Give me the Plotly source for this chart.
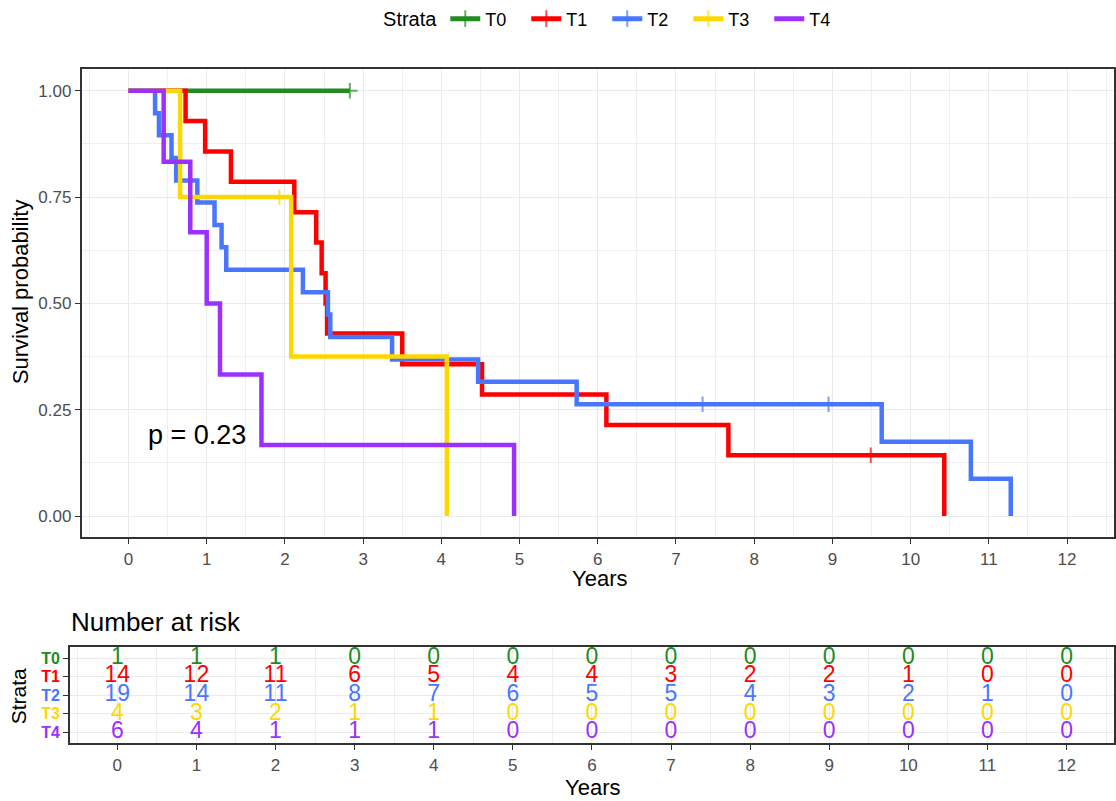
import plotly.graph_objects as go

# ---------------- data ----------------
strata = ["T0", "T1", "T2", "T3", "T4"]
colors = {"T0": "#228B22", "T1": "#FF0000", "T2": "#4876FF", "T3": "#FFD700", "T4": "#9B30FF"}

T0_time = [0, 2.83]
T0_surv = [1.0, 1.0]
T0_cens = [0, 1]

T1_time = [0, 0.73, 0.98, 1.31, 2.12, 2.40, 2.47, 2.52, 2.54, 3.50, 4.52, 6.11, 7.67, 9.49, 10.43]
T1_surv = [1.0, 0.929, 0.857, 0.786, 0.714, 0.643, 0.571, 0.500, 0.429, 0.357, 0.286, 0.214, 0.143, 0.143, 0.0]
T1_cens = [0, 0, 0, 0, 0, 0, 0, 0, 0, 0, 0, 0, 0, 1, 0]

T2_time = [0, 0.34, 0.39, 0.55, 0.61, 0.88, 1.10, 1.19, 1.25, 2.23, 2.55, 2.58, 3.37, 4.47, 5.73, 7.34, 8.95, 9.63, 10.77, 11.28]
T2_surv = [1.0, 0.947, 0.895, 0.842, 0.789, 0.737, 0.684, 0.632, 0.579, 0.526, 0.474, 0.421, 0.368, 0.316, 0.263, 0.263, 0.263, 0.175, 0.088, 0.0]
T2_cens = [0, 0, 0, 0, 0, 0, 0, 0, 0, 0, 0, 0, 0, 0, 0, 1, 1, 0, 0, 0]

T3_time = [0, 0.66, 1.93, 2.08, 4.07]
T3_surv = [1.0, 0.75, 0.75, 0.375, 0.0]
T3_cens = [0, 0, 1, 0, 0]

T4_time = [0, 0.45, 0.79, 1.00, 1.17, 1.70, 4.93]
T4_surv = [1.0, 0.833, 0.667, 0.500, 0.333, 0.167, 0.0]
T4_cens = [0, 0, 0, 0, 0, 0, 0]

risk_times = [0, 1, 2, 3, 4, 5, 6, 7, 8, 9, 10, 11, 12]
risk_T0 = [1, 1, 1, 0, 0, 0, 0, 0, 0, 0, 0, 0, 0]
risk_T1 = [14, 12, 11, 6, 5, 4, 4, 3, 2, 2, 1, 0, 0]
risk_T2 = [19, 14, 11, 8, 7, 6, 5, 5, 4, 3, 2, 1, 0]
risk_T3 = [4, 3, 2, 1, 1, 0, 0, 0, 0, 0, 0, 0, 0]
risk_T4 = [6, 4, 1, 1, 1, 0, 0, 0, 0, 0, 0, 0, 0]

y_ticks = [0, 0.25, 0.5, 0.75, 1.0]
x_ticks = list(range(0, 13))
p_text = "p = 0.23"

curves = {
    "T0": (T0_time, T0_surv, T0_cens),
    "T1": (T1_time, T1_surv, T1_cens),
    "T2": (T2_time, T2_surv, T2_cens),
    "T3": (T3_time, T3_surv, T3_cens),
    "T4": (T4_time, T4_surv, T4_cens),
}
risks = {"T0": risk_T0, "T1": risk_T1, "T2": risk_T2, "T3": risk_T3, "T4": risk_T4}

# ---------------- figure ----------------
W, H = 1116, 801
FONT = "Liberation Sans, Arial, sans-serif"
fig = go.Figure()

for s in strata:
    t, sv, c = curves[s]
    has_cens = any(c)
    fig.add_trace(go.Scatter(
        x=t, y=sv, mode="lines+markers" if has_cens else "lines",
        name=s, line=dict(color=colors[s], width=4.5, shape="hv"),
        marker=dict(symbol="cross-thin-open", size=[11 if ci else 0 for ci in c],
                    color=colors[s], line=dict(color=colors[s], width=2)),
        xaxis="x", yaxis="y", hoverinfo="skip",
    ))

for s in strata:
    fig.add_trace(go.Scatter(
        x=risk_times, y=[s] * len(risk_times), text=[str(v) for v in risks[s]],
        mode="text", textposition="middle center",
        textfont=dict(color=colors[s], size=23, family=FONT),
        showlegend=False, xaxis="x2", yaxis="y2", hoverinfo="skip",
    ))

def px_x(p):
    return p / W

def px_y(p):
    return 1 - p / H

grid_major = "#EBEBEB"
grid_minor = "#EFEFEF"
tickfont = dict(family=FONT, size=17, color="#4D4D4D")

fig.update_layout(
    width=W, height=H, autosize=False,
    margin=dict(l=0, r=0, t=0, b=0),
    paper_bgcolor="white", plot_bgcolor="white",
    font=dict(family=FONT, color="black"),
    showlegend=True,
    legend=dict(
        orientation="h", x=0.553, xanchor="center", y=px_y(17), yanchor="middle",
        title=dict(text="Strata", font=dict(size=20, family=FONT), side="left"),
        font=dict(size=18, family=FONT), itemsizing="constant", entrywidth=36,
        bgcolor="rgba(0,0,0,0)",
    ),
    xaxis=dict(
        domain=[px_x(81.7), 1.0], range=[-0.6, 12.6], anchor="y",
        tickvals=x_ticks, ticks="outside", ticklen=5, tickwidth=1.2, tickcolor="#333333",
        tickfont=tickfont, showgrid=True, gridcolor=grid_major, gridwidth=1.4,
        minor=dict(dtick=0.5, tick0=0, showgrid=True, gridcolor=grid_minor, gridwidth=1, ticks=""),
        showline=True, linecolor="#333333", linewidth=1.6, mirror=True, zeroline=False,
    ),
    yaxis=dict(
        domain=[px_y(536.7), px_y(67.6)], range=[-0.05, 1.05], anchor="x",
        tickvals=y_ticks, tickformat=".2f", ticks="outside", ticklen=5, tickwidth=1.2,
        tickcolor="#333333", tickfont=tickfont, showgrid=True, gridcolor=grid_major, gridwidth=1.4,
        minor=dict(dtick=0.125, tick0=0, showgrid=True, gridcolor=grid_minor, gridwidth=1, ticks=""),
        showline=True, linecolor="#333333", linewidth=1.6, mirror=True, zeroline=False,
    ),
    xaxis2=dict(
        domain=[px_x(70), 1.0], range=[-0.6, 12.6], anchor="y2",
        tickvals=x_ticks, ticks="outside", ticklen=5, tickwidth=1.2, tickcolor="#333333",
        tickfont=tickfont, showgrid=True, gridcolor=grid_major, gridwidth=1.4,
        minor=dict(dtick=0.5, tick0=0, showgrid=True, gridcolor=grid_minor, gridwidth=1, ticks=""),
        showline=True, linecolor="#333333", linewidth=1.6, mirror=True, zeroline=False,
    ),
    yaxis2=dict(
        domain=[px_y(743.3), px_y(646.7)], anchor="x2",
        type="category", categoryorder="array", categoryarray=strata[::-1],
        range=[-0.6, 4.6],
        tickvals=strata,
        ticktext=[f"<span style='color:{colors[s]}'><b>{s}</b></span>" for s in strata],
        ticks="outside", ticklen=5, tickwidth=1.2, tickcolor="#333333",
        tickfont=dict(family=FONT, size=16), showgrid=True, gridcolor=grid_major, gridwidth=1.4,
        showline=True, linecolor="#333333", linewidth=1.6, mirror=True, zeroline=False,
    ),
)

annotations = [
    dict(text="Survival probability", x=px_x(20), y=px_y(290), xref="paper", yref="paper",
         textangle=-90, showarrow=False, font=dict(size=22, family=FONT, color="black"),
         xanchor="center", yanchor="middle"),
    dict(text="Years", x=px_x(601), y=px_y(578), xref="paper", yref="paper",
         showarrow=False, font=dict(size=22, family=FONT, color="black"),
         xanchor="center", yanchor="middle"),
    dict(text=p_text, x=0.23, y=0.19, xref="x", yref="y", showarrow=False,
         font=dict(size=27, family=FONT, color="black"), xanchor="left", yanchor="middle"),
    dict(text="Number at risk", x=px_x(69), y=px_y(622), xref="paper", yref="paper",
         showarrow=False, font=dict(size=26, family=FONT, color="black"),
         xanchor="left", yanchor="middle"),
    dict(text="Strata", x=px_x(18), y=px_y(696), xref="paper", yref="paper",
         textangle=-90, showarrow=False, font=dict(size=21, family=FONT, color="black"),
         xanchor="center", yanchor="middle"),
    dict(text="Years", x=px_x(594), y=px_y(787), xref="paper", yref="paper",
         showarrow=False, font=dict(size=22, family=FONT, color="black"),
         xanchor="center", yanchor="middle"),
]
fig.update_layout(annotations=annotations)

fig.write_html("out.html")
